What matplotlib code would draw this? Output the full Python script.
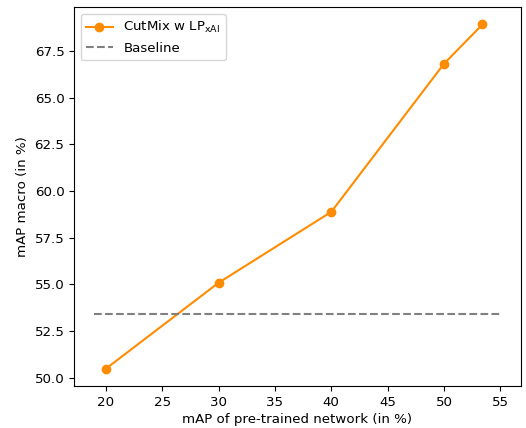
import matplotlib.pyplot as plt

# valores
map_pretrained = [20, 30, 40, 50, 53.4]
map_macro = [50.47, 55.08, 58.88, 66.82, 68.92]
baseline_x = [19, 55]
baseline_y = [53.42, 53.42]

plt.rcParams['font.size'] = 9.6

fig, ax = plt.subplots(figsize=(5.26, 4.28), dpi=100)

ax.plot(map_pretrained, map_macro, marker='o', color='darkorange', label=r'CutMix w LP$_{\mathrm{xAI}}$')
ax.plot(baseline_x, baseline_y, linestyle='--', color='grey', label='Baseline')

ax.set_xlabel('mAP of pre-trained network (in %)', labelpad=3)
ax.set_ylabel('mAP macro (in %)')
ax.legend(loc='upper left')

plt.subplots_adjust(left=0.141, right=0.99, top=0.983, bottom=0.098)
plt.savefig('out.png')
